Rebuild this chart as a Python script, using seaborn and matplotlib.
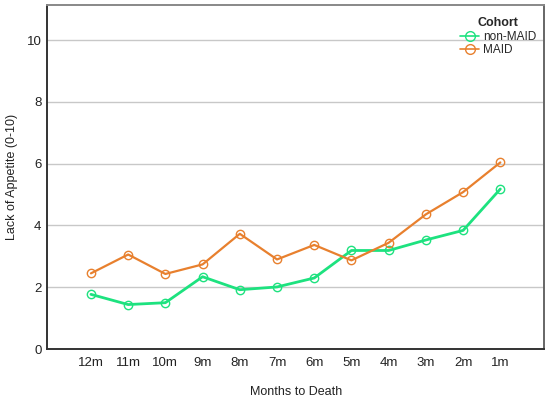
import matplotlib
matplotlib.use("Agg")
import matplotlib.pyplot as plt
import seaborn as sns
import pandas as pd
from matplotlib.lines import Line2D

months = ["12m", "11m", "10m", "9m", "8m", "7m", "6m", "5m", "4m", "3m", "2m", "1m"]
non_maid = [1.77, 1.44, 1.50, 2.34, 1.92, 2.01, 2.30, 3.19, 3.19, 3.53, 3.84, 5.18]
maid = [2.45, 3.06, 2.43, 2.74, 3.73, 2.90, 3.37, 2.87, 3.44, 4.36, 5.08, 6.04]
cohorts = ["non-MAID", "MAID"]
yticks = [0, 2, 4, 6, 8, 10]

sns.set_theme(style="white")
plt.rcParams["font.family"] = ["Liberation Sans", "DejaVu Sans"]

df = pd.DataFrame({
    "Months": months * 2,
    "Value": non_maid + maid,
    "Cohort": [cohorts[0]] * len(months) + [cohorts[1]] * len(months),
})

colors = {"non-MAID": "#1de27f", "MAID": "#e8802e"}

fig = plt.figure(figsize=(5.5, 3.98), dpi=100)
ax = fig.add_axes([0.0855, 0.123, 0.904, 0.864])

for c, lw in [("non-MAID", 2.0), ("MAID", 1.6)]:
    sub = df[df["Cohort"] == c]
    sns.lineplot(data=sub, x="Months", y="Value", ax=ax, sort=False,
                 color=colors[c], linewidth=lw, marker="o", markersize=6,
                 markerfacecolor="none", markeredgecolor=colors[c],
                 markeredgewidth=1.0, legend=False)

ax.set_xlim(-1.18, len(months) - 1 + 1.18)
ax.set_ylim(0, 11.13)
ax.set_yticks(yticks)
ax.set_yticklabels([str(t) for t in yticks])
ax.grid(axis="y", color="#c8c8c8", linewidth=1.0)
ax.grid(axis="x", visible=False)
ax.set_axisbelow(True)
ax.tick_params(axis="both", length=0, labelsize=9.5, colors="#222222", pad=6)
ax.tick_params(axis="y", pad=4)
ax.set_xlabel("Months to Death", fontsize=9, color="#222222", labelpad=12)
ax.set_ylabel("Lack of Appetite (0-10)", fontsize=9, color="#222222", labelpad=6)

for side, col in [("left", "#333333"), ("bottom", "#333333"), ("top", "#888888"), ("right", "#666666")]:
    ax.spines[side].set_visible(True)
    ax.spines[side].set_color(col)
    ax.spines[side].set_linewidth(1.4)

handles = [Line2D([0], [0], color=colors[c], linewidth=1.2, marker="o", markersize=7,
                  markerfacecolor="none", markeredgecolor=colors[c]) for c in cohorts]
leg = ax.legend(handles, cohorts, title="Cohort", loc="upper right", frameon=False,
                fontsize=8.5, title_fontsize=9, handlelength=1.6, handletextpad=0.3,
                labelspacing=0.15, borderaxespad=0.3, bbox_to_anchor=(1.0, 0.99))
leg.get_title().set_fontweight("bold")
leg._legend_box.align = "center"

fig.savefig("out.png", dpi=100)
